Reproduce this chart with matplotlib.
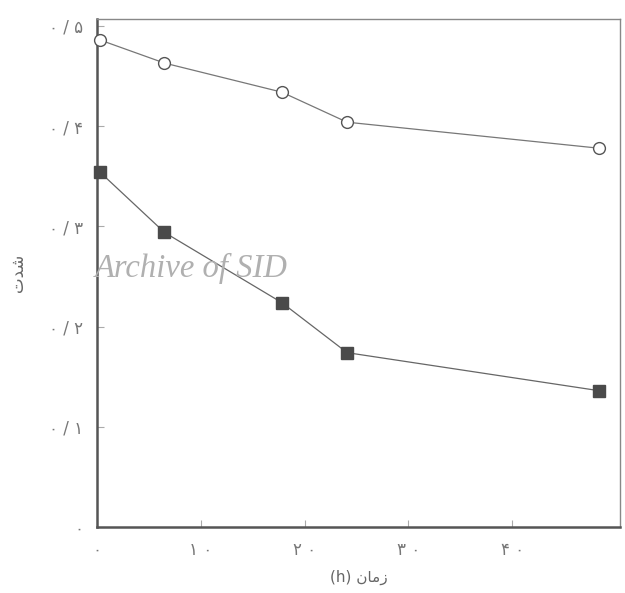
import matplotlib.pyplot as plt

# time (h) and intensity
time_h = [0.3, 6.5, 17.8, 24.1, 48.4]
open_circle = [0.486, 0.463, 0.434, 0.404, 0.378]
filled_square = [0.354, 0.294, 0.224, 0.174, 0.136]

xtick_vals = [0, 10, 20, 30, 40]
xtick_labels = ['۰', '۱ ۰', '۲ ۰', '۳ ۰', '۴ ۰']
ytick_vals = [0, 0.1, 0.2, 0.3, 0.4, 0.5]
ytick_labels = ['۰', '۰ / ۱', '۰ / ۲', '۰ / ۳', '۰ / ۴', '۰ / ۵']

# Persian text in visual (left to right) order with presentation forms
xlabel_text = '(h) \uFEE5\uFE8E\uFEE3\uFEAF'   # زمان (h)
ylabel_text = '\uFE95\uFEAA\uFEB7'              # شدت


def main():
    fig = plt.figure(figsize=(6.25, 5.93), dpi=100)
    ax = fig.add_axes([0.1552, 0.1113, 0.8368, 0.8567])

    ax.plot(time_h, open_circle, color='#777777', lw=0.9, marker='o',
            markersize=8.5, markerfacecolor='white', markeredgecolor='#555555',
            markeredgewidth=1.0, clip_on=False, zorder=3)
    ax.plot(time_h, filled_square, color='#666666', lw=0.9, marker='s',
            markersize=8, markerfacecolor='#4a4a4a', markeredgecolor='#4a4a4a',
            clip_on=False, zorder=3)

    ax.set_xlim(0, 50.4)
    ax.set_ylim(0, 0.507)

    ax.set_xticks(xtick_vals)
    ax.set_xticklabels(xtick_labels)
    ax.set_yticks(ytick_vals)
    ax.set_yticklabels(ytick_labels)
    ax.tick_params(direction='in', length=5, width=0.8, color='#aaaaaa',
                   labelcolor='#777777', labelsize=12, pad=10)

    for side in ['left', 'bottom']:
        ax.spines[side].set_color('#555555')
        ax.spines[side].set_linewidth(1.8)
    for side in ['top', 'right']:
        ax.spines[side].set_color('#888888')
        ax.spines[side].set_linewidth(1.0)

    ax.set_xlabel(xlabel_text, fontsize=11, color='#666666', labelpad=8)
    ax.set_ylabel(ylabel_text, fontsize=12, color='#666666', labelpad=16)

    # scan watermark
    fig.text(0.306, 0.548, 'Archive of SID', family='Liberation Serif',
             style='italic', fontsize=23.5, color='#b0b0b0',
             ha='center', va='center')

    plt.savefig('out.png', dpi=100)


if __name__ == '__main__':
    main()
